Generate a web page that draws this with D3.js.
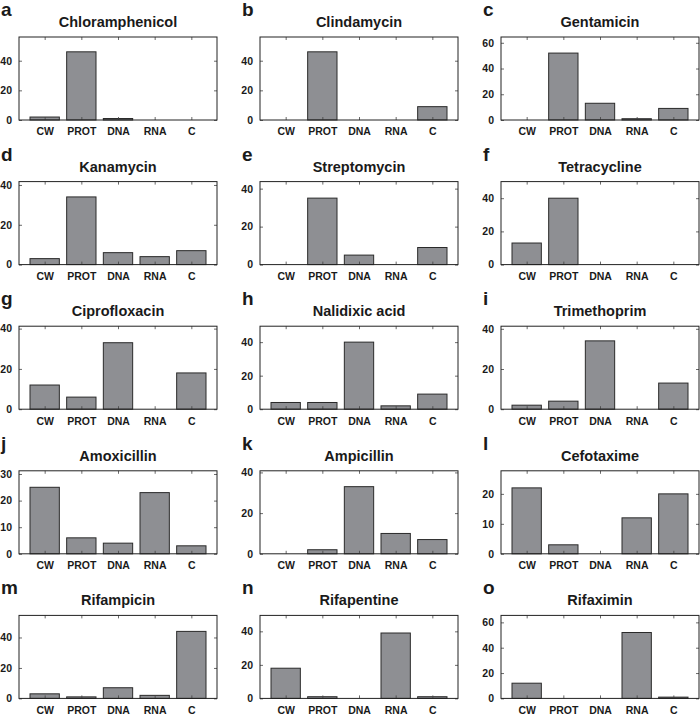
<!DOCTYPE html>
<html><head><meta charset="utf-8">
<script src="https://cdn.jsdelivr.net/npm/d3@7"></script>
<style>
html,body{margin:0;padding:0;background:#fff;}
svg text{font-family:"Liberation Sans",Arial,Helvetica,sans-serif;font-weight:bold;fill:#1a1a1a;}
</style></head>
<body>
<svg id="chart" width="700" height="716"></svg>
<script>
const categories = ["CW","PROT","DNA","RNA","C"];
const letters = ["a","b","c","d","e","f","g","h","i","j","k","l","m","n","o"];
const titles = ["Chloramphenicol","Clindamycin","Gentamicin","Kanamycin","Streptomycin","Tetracycline",
  "Ciprofloxacin","Nalidixic acid","Trimethoprim","Amoxicillin","Ampicillin","Cefotaxime",
  "Rifampicin","Rifapentine","Rifaximin"];
const chloramphenicol = [2,46,1,0,0];
const clindamycin     = [0,46,0,0,9];
const gentamicin      = [0,52,13,1,9];
const kanamycin       = [3,34,6,4,7];
const streptomycin    = [0,35,5,0,9];
const tetracycline    = [13,40,0,0,0];
const ciprofloxacin   = [12,6,33,0,18];
const nalidixicAcid   = [4,4,40,2,9];
const trimethoprim    = [2,4,34,0,13];
const amoxicillin     = [25,6,4,23,3];
const ampicillin      = [0,2,33,10,7];
const cefotaxime      = [22,3,0,12,20];
const rifampicin      = [3,1,7,2,44];
const rifapentine     = [18,1,0,39,1];
const rifaximin       = [12,0,0,52,1];
const seriesValues = [chloramphenicol,clindamycin,gentamicin,kanamycin,streptomycin,tetracycline,
  ciprofloxacin,nalidixicAcid,trimethoprim,amoxicillin,ampicillin,cefotaxime,rifampicin,rifapentine,rifaximin];
const yMax = [56,56,64.5,41.7,43.7,50,41.2,49.5,41.3,31.2,40.8,27.7,54.5,49.5,65.5];
const yTickStep = [20,20,20,20,20,20,20,20,20,10,20,10,20,20,20];

const svg = d3.select("#chart");
const W = 198, H = 83;
const colLeft = c => 19 + c*241;
const rowTop = r => 37 + r*144.6;

seriesValues.forEach((vals, i) => {
  const r = Math.floor(i/3), c = i%3;
  const g = svg.append("g").attr("transform", `translate(${colLeft(c)},${rowTop(r)})`);
  const x = d3.scaleLinear().domain([0.3, 5.7]).range([0, W]);
  const y = d3.scaleLinear().domain([0, yMax[i]]).range([H, 0]);
  const yt = d3.range(0, yMax[i] + 0.001, yTickStep[i]);

  // bars
  g.selectAll("rect.bar").data(vals).join("rect")
    .attr("class","bar")
    .attr("x", (d,j) => x(j+1) - (x(1.4)-x(1)))
    .attr("width", x(1.8)-x(1))
    .attr("y", d => y(d))
    .attr("height", d => H - y(d))
    .attr("fill", "#8e8f93")
    .attr("stroke", "#2a2a2a")
    .attr("stroke-width", 1);

  // axes
  const xb = d3.axisBottom(x).tickValues([1,2,3,4,5]).tickFormat((d)=>categories[d-1]).tickSizeInner(-3).tickSizeOuter(0).tickPadding(8);
  const xt = d3.axisTop(x).tickValues([1,2,3,4,5]).tickFormat("").tickSizeInner(-3).tickSizeOuter(0);
  const yl = d3.axisLeft(y).tickValues(yt).tickFormat(d3.format("d")).tickSizeInner(-3).tickSizeOuter(0).tickPadding(7);
  const yr = d3.axisRight(y).tickValues(yt).tickFormat("").tickSizeInner(-3).tickSizeOuter(0);
  const gx = g.append("g").attr("transform",`translate(0,${H})`).call(xb);
  g.append("g").call(xt);
  const gy = g.append("g").call(yl);
  g.append("g").attr("transform",`translate(${W},0)`).call(yr);
  svg.selectAll(".domain").remove();
  g.selectAll(".tick line").attr("stroke","#444").attr("stroke-width",0.8);
  g.selectAll(".tick text").style("font-size","10.5px").style("font-weight","bold")
    .style("font-family","'Liberation Sans',Arial,sans-serif").attr("fill","#1a1a1a");

  // box
  g.append("rect").attr("x",0).attr("y",0).attr("width",W).attr("height",H)
    .attr("fill","none").attr("stroke","#222").attr("stroke-width",1);

  // title
  g.append("text").attr("x", W/2).attr("y", -10).attr("text-anchor","middle")
    .style("font-size","14.5px").text(titles[i]);
  // letter
  g.append("text").attr("x", -18).attr("y", -21).attr("text-anchor","start")
    .style("font-size","19px").text(letters[i]);
});
</script>
</body></html>
